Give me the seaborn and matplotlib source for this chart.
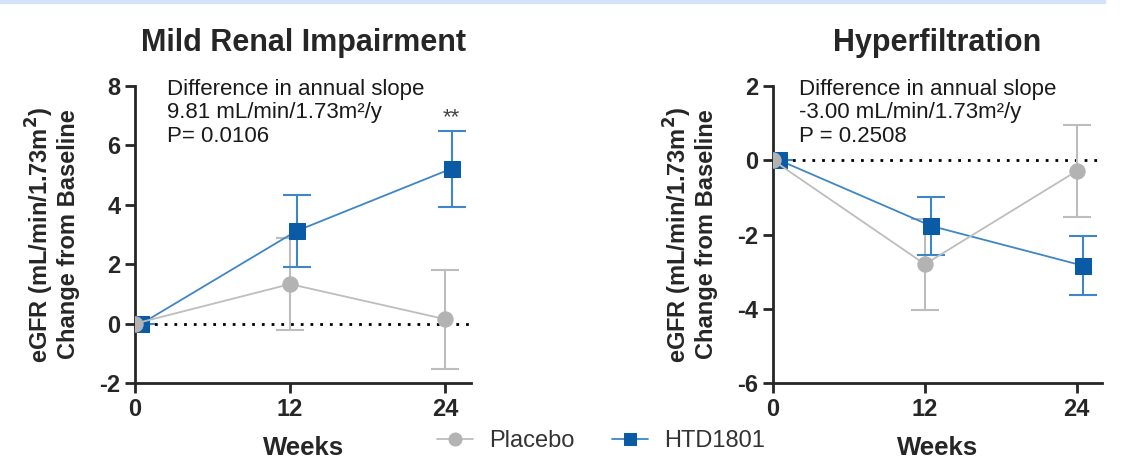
import numpy as np
import pandas as pd
import matplotlib
matplotlib.use("Agg")
import matplotlib.pyplot as plt
import seaborn as sns
from matplotlib.patches import Rectangle

# valores (média e erro)
weeks = [0, 12, 24]
groups = ["Placebo", "HTD1801"]

mild_placebo = [0.0, 1.33, 0.15]
mild_placebo_err = [0.0, 1.55, 1.67]
mild_htd = [0.0, 3.12, 5.22]
mild_htd_err = [0.0, 1.21, 1.28]

hyper_placebo = [0.0, -2.80, -0.29]
hyper_placebo_err = [0.0, 1.23, 1.24]
hyper_htd = [0.0, -1.77, -2.84]
hyper_htd_err = [0.0, 0.78, 0.80]

titles = ["Mild Renal Impairment", "Hyperfiltration"]
notes = ["Difference in annual slope\n9.81 mL/min/1.73m²/y\nP= 0.0106",
         "Difference in annual slope\n-3.00 mL/min/1.73m²/y\nP = 0.2508"]
yticks_list = [[-2, 0, 2, 4, 6, 8], [-6, -4, -2, 0, 2]]

sns.set_style("ticks")
plt.rcParams["font.family"] = ["Liberation Sans", "DejaVu Sans"]

colors = {"Placebo": "#bdbdbd", "HTD1801": "#3f86c6"}
mcolors = {"Placebo": "#b3b3b3", "HTD1801": "#0b5aa5"}
markers = {"Placebo": "o", "HTD1801": "s"}
dodge = {"Placebo": 0.0, "HTD1801": 0.5}
zline = {"Placebo": 6, "HTD1801": 5}
zerr = {"Placebo": 3, "HTD1801": 4}

def make_df(pl, pl_e, htd, htd_e):
    rows = []
    for g, m, e in [("Placebo", pl, pl_e), ("HTD1801", htd, htd_e)]:
        for w, v, s in zip(weeks, m, e):
            rows.append({"week": w, "group": g, "mean": v, "se": s})
    return pd.DataFrame(rows)

dfs = [make_df(mild_placebo, mild_placebo_err, mild_htd, mild_htd_err),
       make_df(hyper_placebo, hyper_placebo_err, hyper_htd, hyper_htd_err)]

fig = plt.figure(figsize=(11.28, 4.71), dpi=100)
fig.patches.append(Rectangle((0, 0.993), 0.98, 0.007, transform=fig.transFigure,
                             color="#d3e4f8", zorder=0))

positions = [[0.1197, 0.1868, 0.2979, 0.6306], [0.6853, 0.1868, 0.2917, 0.6306]]
ylims = [(-2, 8), (-6, 2)]

for i in range(2):
    ax = fig.add_axes(positions[i])
    df = dfs[i].copy()
    df["x"] = df["week"] + df["group"].map(dodge)
    ax.axhline(0, color="black", linestyle=(0, (1, 2.5)), linewidth=2, zorder=1)
    for g in groups:
        sub = df[df["group"] == g]
        ax.errorbar(sub["x"], sub["mean"], yerr=sub["se"], fmt="none",
                    ecolor=colors[g], elinewidth=1.5, capsize=10, capthick=1.5,
                    zorder=zerr[g])
        sns.lineplot(data=sub, x="x", y="mean", ax=ax, color=colors[g],
                     marker=markers[g], markersize=11, markerfacecolor=mcolors[g],
                     markeredgecolor=mcolors[g], linewidth=1.3, label=g,
                     zorder=zline[g])
    ax.set_xlim(0, 26)
    ax.set_ylim(*ylims[i])
    ax.set_xticks(weeks)
    ax.set_yticks(yticks_list[i])
    ax.set_yticklabels([str(t) for t in yticks_list[i]])
    for s in ["top", "right"]:
        ax.spines[s].set_visible(False)
    for s in ["left", "bottom"]:
        ax.spines[s].set_linewidth(2)
    ax.tick_params(width=2, length=7, labelsize=17, direction="out")
    for lab in ax.get_xticklabels() + ax.get_yticklabels():
        lab.set_fontweight("bold")
    ax.set_xlabel("Weeks", fontsize=18.5, fontweight="bold", labelpad=11)
    ax.set_ylabel("eGFR (mL/min/1.73m$^\\mathbf{2}$)\nChange from Baseline",
                  fontsize=17, fontweight="bold", linespacing=1.05, labelpad=14)
    ax.set_title(titles[i], fontsize=22, fontweight="bold", pad=25)
    ax.text(0.095 if i == 0 else 0.08, 1.025, notes[i], transform=ax.transAxes,
            fontsize=16, va="top", ha="left", linespacing=1.18, color="#1a1a1a")
    ax.get_legend().remove()
    if i == 0:
        ax.text(24.5, 6.95, "**", ha="center", va="center", fontsize=16, color="#444444")
    handles, labels = ax.get_legend_handles_labels()

fig.legend(handles, labels, loc="center", bbox_to_anchor=(0.533, 0.064), ncol=2,
           frameon=False, fontsize=17, handlelength=1.5, handletextpad=0.7,
           markerscale=0.85, columnspacing=1.6, labelcolor="#333333")

fig.savefig("out.png", dpi=100)
